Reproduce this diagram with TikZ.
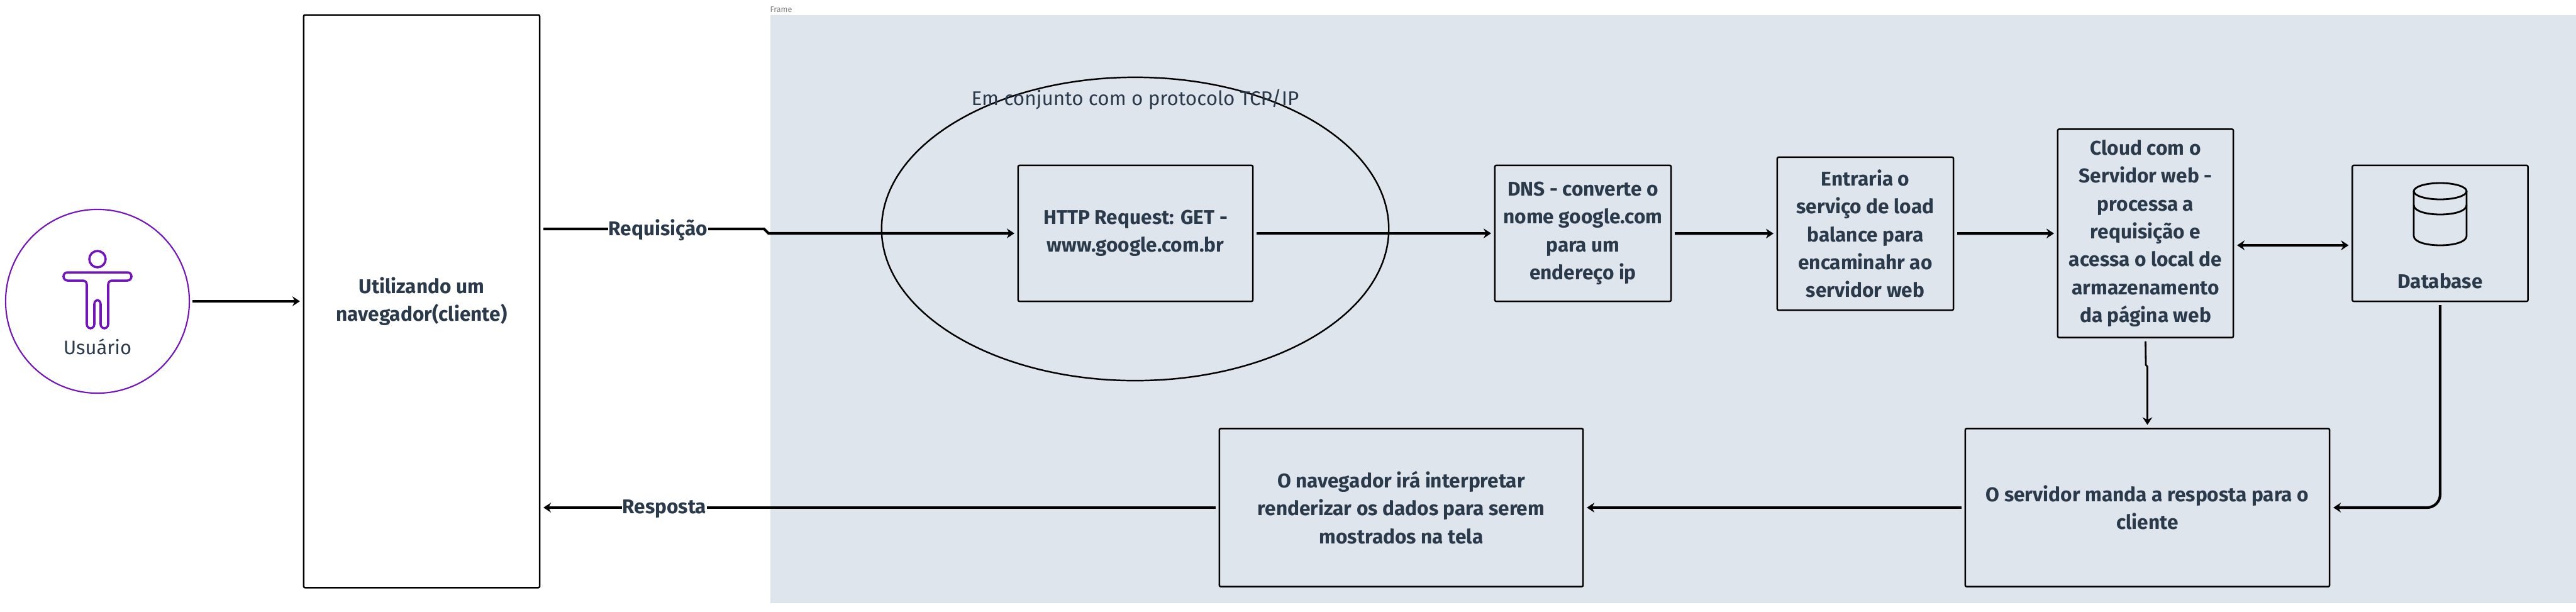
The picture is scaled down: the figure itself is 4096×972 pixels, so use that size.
\documentclass[tikz,border=0pt]{standalone}
\usepackage{fontspec}
\setmainfont{Fira Sans}
\usetikzlibrary{arrows.meta,shapes.geometric}
\definecolor{framefill}{HTML}{DFE5ED}
\definecolor{inkblue}{HTML}{2B3A4A}
\definecolor{userpurple}{HTML}{7213BF}
\begin{document}
\begin{tikzpicture}
	[x=0.01cm,y=-0.01cm,every node/.style={text=inkblue,font=\fontsize{9}{12.6}\selectfont\bfseries,align=center,inner sep=0pt}]
	\tikzstyle{block} = [draw=black,line width=0.7pt,rounded corners=0.6pt,outer sep=1.7pt];
	\tikzstyle{edges} = [line width=1.2pt,-{Stealth[length=3.4pt,width=4.4pt]}];
	\tikzstyle{icon} = [line width=1pt,draw=userpurple];
	\tikzstyle{tag} = [fill=white,inner xsep=0.3pt,yshift=-0.6pt];

	\useasboundingbox (0,0) rectangle (4096,972);
	\fill[framefill] (1225,24) rectangle (4096,959);
	\node[font=\fontsize{3.6}{4}\selectfont,text=gray] (framelabel) at (1242,15) {Frame};

	\node[circle,draw=userpurple,line width=0.6pt,minimum size=2.92cm,outer sep=1.5pt] (user) at (155,479) {};
	\node[font=\fontsize{8.8}{12}\selectfont] (userlabel) at (155,551) {Usuário};
	\draw[icon] (155,412) circle[radius=13];
	\draw[icon,rounded corners=1.8pt] (101,433) -- (209,433) -- (209,446) -- (172,446) -- (172,522) -- (160,522) -- (160,477) -- (150,477) -- (150,522) -- (138,522) -- (138,446) -- (101,446) -- cycle;

	\node[block,minimum width=3.75cm,minimum height=9.1cm] (browser) at (670.5,479) {Utilizando um\\navegador(cliente)};
	\node[ellipse,draw=black,line width=0.7pt,minimum width=8.06cm,minimum height=4.82cm] (tcp) at (1805,364) {};
	\node[font=\fontsize{8.95}{12}\selectfont] (tcplabel) at (1805,158) {Em conjunto com o protocolo TCP/IP};
	\node[block,minimum width=3.73cm,minimum height=2.16cm] (http) at (1805.5,371) {HTTP Request: GET -\\www.google.com.br};
	\node[block,minimum width=2.8cm,minimum height=2.16cm] (dns) at (2517,371) {DNS - converte o\\nome google.com\\para um\\endereço ip};
	\node[block,minimum width=2.8cm,minimum height=2.43cm] (balance) at (2966,371.5) {Entraria o\\serviço de load\\balance para\\encaminahr ao\\servidor web};
	\node[block,minimum width=2.79cm,minimum height=3.31cm] (cloud) at (3411.5,371) {Cloud com o\\Servidor web -\\processa a\\requisição e\\acessa o local de\\armazenamento\\da página web};
	\node[block,minimum width=2.79cm,minimum height=2.16cm] (db) at (3880,371) {};
	\node (dblabel) at (3880,447) {Database};
	\node[block,minimum width=5.79cm,minimum height=2.51cm] (server) at (3414.5,807) {O servidor manda a resposta para o\\cliente};
	\node[block,minimum width=5.78cm,minimum height=2.51cm] (render) at (2228,807) {O navegador irá interpretar\\renderizar os dados para serem\\mostrados na tela};

	\draw[line width=0.8pt] (3880,304) ellipse[x radius=42,y radius=13];
	\draw[line width=0.8pt] (3838,304) -- (3838,375) .. controls (3838,395) and (3922,395) .. (3922,375) -- (3922,304);
	\draw[line width=0.8pt] (3838,326) .. controls (3838,346) and (3922,346) .. (3922,326);

	\coordinate (reqstart) at (browser.east |- 0,364);
	\coordinate (reqend) at (http.west);
	\coordinate (cloudport) at ([yshift=-5.4pt]cloud.east);
	\coordinate (dbport) at ([yshift=-5.4pt]db.west);

	\draw[edges] (user) -- (browser);
	\draw[edges] (reqstart) -- node[tag,pos=0.52] (reqlabel) {Requisição} (1215,364) -- (1222,371) -- (reqend);
	\draw[edges] (http) -- (dns);
	\draw[edges] (dns) -- (balance);
	\draw[edges] (balance) -- (cloud);
	\draw[edges,{Stealth[length=3.4pt,width=4.4pt]}-{Stealth[length=3.4pt,width=4.4pt]}] (cloudport) -- (dbport);
	\draw[edges,line width=0.8pt] (cloud.south) -- (3412,580) -- (3414.5,583) -- (server.north);
	\draw[edges,rounded corners=6pt] (db.south) |- (server.east);
	\draw[edges] (server) -- (render);
	\draw[edges] (render) -- node[tag,pos=0.82] (resplabel) {Resposta} (render.west -| browser.east);
\end{tikzpicture}
\end{document}
